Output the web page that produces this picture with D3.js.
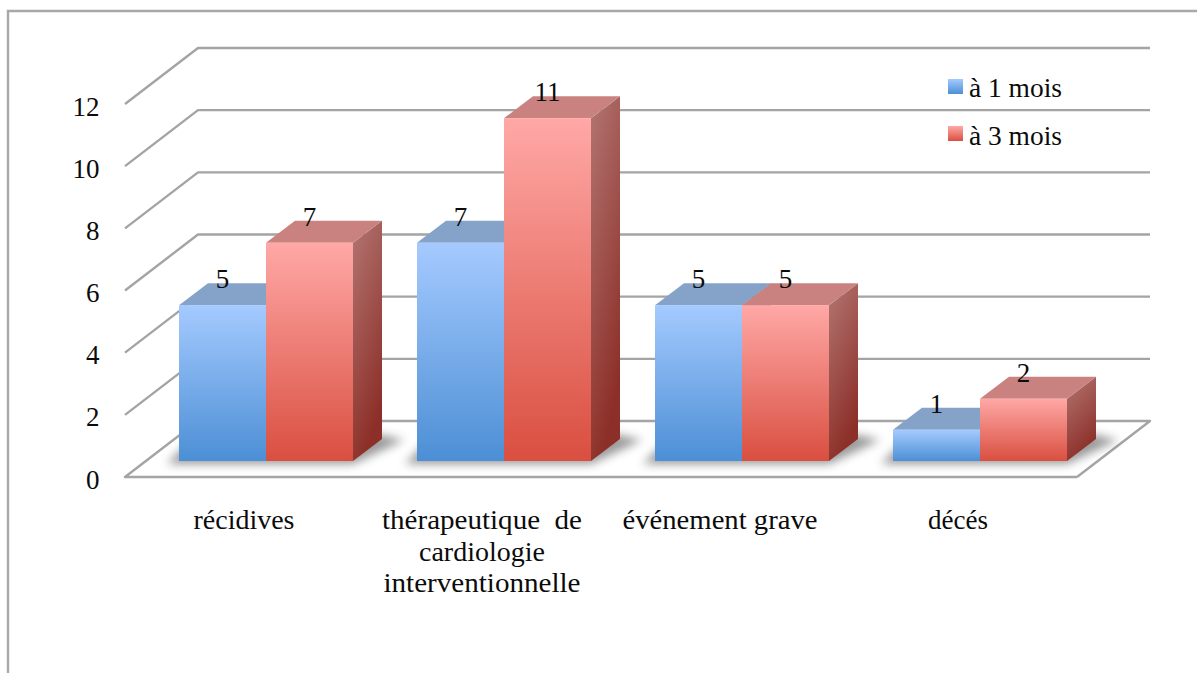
<!DOCTYPE html>
<html><head><meta charset="utf-8">
<script src="https://cdn.jsdelivr.net/npm/d3@7"></script>
<style>html,body{margin:0;padding:0;background:#fff;overflow:hidden}text{font-family:"Liberation Serif",serif;fill:#0b0b0b}</style>
</head><body><svg id="c" width="1197" height="673"></svg>
<script>
const categories=["récidives","thérapeutique  de|cardiologie|interventionnelle","événement grave","décés"];
const seriesNames=["à 1 mois","à 3 mois"];
const mois1=[5,7,5,1];
const mois3=[7,11,5,2];
const yTicks=[0,2,4,6,8,10,12];
const catWidths=[[101],[200,126,197],[195],[60]];

const W=1197,H=673,fs=27;
const svg=d3.select("#c");
const defs=svg.append("defs");
function grad(id,c,x2,y2){const g=defs.append("linearGradient").attr("id",id).attr("x1",0).attr("y1",0).attr("x2",x2).attr("y2",y2);
 c.forEach((k,i)=>g.append("stop").attr("offset",i/(c.length-1)).attr("stop-color",k));}
grad("fb",["#a5caff","#4c8fd5"],0,1);
grad("fr",["#ffa8a6","#d94f40"],0,1);
grad("sb",["#7a97bd","#35639a"],.35,1);
grad("sr",["#b37672","#8c2f28"],.35,1);
defs.append("filter").attr("id","blur").attr("x","-15%").attr("y","-40%").attr("width","130%").attr("height","180%")
 .append("feGaussianBlur").attr("stdDeviation",5);

const colors={front:["url(#fb)","url(#fr)"],side:["url(#sb)","url(#sr)"],top:["#85a2c9","#c98280"]};

// plot scales
const y=d3.scaleLinear().domain([0,12]).range([477,104]);
const barBase=d3.scaleLinear().domain([0,12]).range([461,87]);
const x0=d3.scaleBand().domain(d3.range(categories.length)).range([179,1131]).paddingInner(0).paddingOuter(0);
const barW=87;
const gridDX=73,gridDY=56,barDX=29,barDY=22;
const xLeft=125,xRight=1077;
const grey="#a4a4a4";

// frame
svg.append("path").attr("d",d3.line()([[8,H],[8,11],[W,11]])).attr("fill","none").attr("stroke","#a8a8a8").attr("stroke-width",2.4);

// grid
const grid=svg.append("g").attr("fill","none").attr("stroke",grey).attr("stroke-width",2.4).attr("stroke-linejoin","round");
yTicks.forEach(t=>{
  const yy=y(t);
  grid.append("path").attr("d",d3.line()(t===0
    ?[[xRight,yy],[xLeft,yy],[xLeft+gridDX,yy-gridDY],[xRight+gridDX,yy-gridDY],[xRight,yy]]
    :[[xLeft,yy],[xLeft+gridDX,yy-gridDY],[xRight+gridDX,yy-gridDY]]));
});

// y labels
svg.append("g").selectAll("text").data(yTicks).join("text")
  .attr("x",99.5).attr("y",d=>y(d)+11.5).attr("text-anchor","end").attr("font-size",fs).text(d=>d);

// shadows
const shadow=svg.append("g").attr("filter","url(#blur)").attr("fill","#777").attr("opacity",.75);
categories.forEach((c,i)=>{
  const L=x0(i)-12,R=x0(i)+2*barW,b=barBase(0);
  shadow.append("path").attr("d",d3.line()([[L,b+3],[R,b+3],[R+barDX+22,b-barDY+1],[R+barDX,b-barDY-4],[L+barDX,b-barDY-4]])+"Z");
});

// bars
const bars=svg.append("g");
[mois1,mois3].forEach((vals,s)=>{
  vals.forEach((v,i)=>{
    const l=x0(i)+s*barW,r=l+barW,t=barBase(v),b=barBase(0);
    const g=bars.append("g");
    g.append("path").attr("fill",colors.side[s]).attr("d",d3.line()([[r,t],[r+barDX,t-barDY],[r+barDX,b-barDY],[r,b]])+"Z");
    g.append("path").attr("fill",colors.top[s]).attr("d",d3.line()([[l,t],[l+barDX,t-barDY],[r+barDX,t-barDY],[r,t]])+"Z");
    g.append("rect").attr("x",l).attr("y",t).attr("width",barW).attr("height",b-t).attr("fill",colors.front[s]);
  });
});
// value labels
[mois1,mois3].forEach((vals,s)=>{
  vals.forEach((v,i)=>{
    svg.append("text").attr("x",x0(i)+s*barW+barW/2).attr("y",barBase(v)-17)
      .attr("text-anchor","middle").attr("font-size",fs).text(v);
  });
});

// category labels
categories.forEach((c,i)=>{
  c.split("|").forEach((ln,j)=>{
    svg.append("text").attr("xml:space","preserve").style("white-space","pre")
     .attr("x",x0(i)+barW-22).attr("y",529+j*31.5).attr("text-anchor","middle").attr("font-size",fs)
     .attr("textLength",catWidths[i][j]).attr("lengthAdjust","spacingAndGlyphs").text(ln);
  });
});

// legend
seriesNames.forEach((n,i)=>{
  const yy=79+i*47;
  svg.append("rect").attr("x",948).attr("y",yy).attr("width",15).attr("height",15).attr("fill",colors.front[i]);
  svg.append("text").attr("x",969).attr("y",97+i*48).attr("font-size",fs)
     .attr("textLength",93).attr("lengthAdjust","spacingAndGlyphs").text(n);
});
</script></body></html>
